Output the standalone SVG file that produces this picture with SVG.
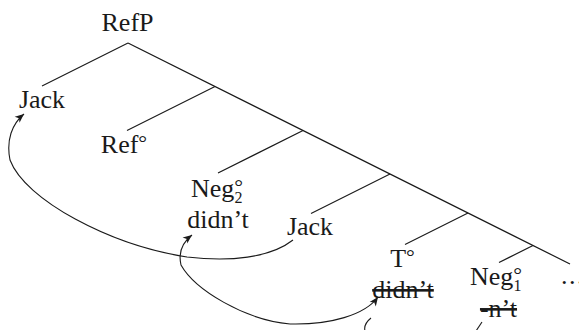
<svg xmlns="http://www.w3.org/2000/svg" width="579" height="330" viewBox="0 0 579 330">
<style>
  text { font-family: "Liberation Serif", "DejaVu Serif", serif; font-size: 26px; fill: #1a1a1a; text-anchor: middle; }
  .deg { font-size: 22px; }
  .sub { font-size: 16px; }
  .strike { text-decoration: line-through; text-decoration-thickness: 2px; }
  .tree line { stroke: #1a1a1a; stroke-width: 1.2; }
  .mv { fill: none; stroke: #1a1a1a; stroke-width: 1.1; }
</style>
<defs>
  <marker id="ah" markerUnits="userSpaceOnUse" markerWidth="12" markerHeight="10" viewBox="-10 -5 12 10" refX="0" refY="0" orient="auto">
    <path d="M0,0 L-9,-3.8 L-6.5,0 L-9,3.8 Z" fill="#1a1a1a"/>
  </marker>
</defs>
<rect width="579" height="330" fill="#ffffff"/>

<g id="edges" class="tree">
  <line x1="128" y1="43" x2="42" y2="86"/>
  <line x1="128" y1="43" x2="570" y2="264"/>
  <line x1="215" y1="86.5" x2="127" y2="130.5"/>
  <line x1="303" y1="130.5" x2="218" y2="173"/>
  <line x1="390" y1="174" x2="311" y2="213.5"/>
  <line x1="468" y1="213" x2="405" y2="244.5"/>
  <line x1="533" y1="245.5" x2="499" y2="262.5"/>
</g>

<g id="node-refp"><text x="127.5" y="31" font-family="Liberation Serif, serif">RefP</text></g>
<g id="node-jack1"><text x="42" y="108" font-family="Liberation Serif, serif">Jack</text></g>
<g id="node-ref"><text x="124" y="153" font-family="Liberation Serif, serif">Ref<tspan class="deg" dy="-3">°</tspan></text></g>
<g id="node-neg2">
  <text x="217" y="197" font-family="Liberation Serif, serif">Neg<tspan class="deg" dy="-3">°</tspan><tspan class="sub" dx="-8.5" dy="9">2</tspan></text>
  <text x="218" y="228" font-family="Liberation Serif, serif">didn’t</text>
</g>
<g id="node-jack2"><text x="310" y="235" font-family="Liberation Serif, serif">Jack</text></g>
<g id="node-t">
  <text x="402.5" y="267" font-family="Liberation Serif, serif">T<tspan class="deg" dy="-3">°</tspan></text>
  <text x="403" y="298" class="strike" font-family="Liberation Serif, serif">didn’t</text>
</g>
<g id="node-neg1">
  <text x="496" y="285" font-family="Liberation Serif, serif">Neg<tspan class="deg" dy="-3">°</tspan><tspan class="sub" dx="-8.5" dy="9">1</tspan></text>
  <text x="498.5" y="317" class="strike" font-family="Liberation Serif, serif">-n’t</text>
</g>
<g id="node-dots"><text x="561" y="284" font-family="Liberation Serif, serif" style="text-anchor:start;letter-spacing:1.5px">...</text></g>

<g id="connectors">
  <path class="mv" d="M293,240 C270,258 230,262 187,257 C110,245 25,200 10,160 C6,140 12,124 24,114" marker-end="url(#ah)"/>
  <path class="mv" d="M290,324 C245,320 195,290 181,265 C178,252 183,242 192,235" marker-end="url(#ah)"/>
  <path class="mv" d="M290,324 C330,325 365,315 378,297" marker-end="url(#ah)"/>
  <path class="mv" d="M371,318 C366,322 364,327 365,331"/>
  <path class="mv" d="M482,322 L476,331"/>
</g>
</svg>
